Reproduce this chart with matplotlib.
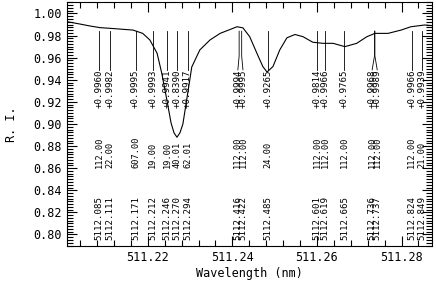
import matplotlib
matplotlib.use("Agg")
import matplotlib.pyplot as plt
from matplotlib.ticker import MultipleLocator

# spectrum profile (nm, relative intensity)
wl = [511.2009, 511.2039, 511.2063, 511.2087, 511.2110, 511.2165, 511.2188,
      511.2205, 511.2222, 511.2233, 511.2245, 511.2255, 511.2262, 511.2269,
      511.2276, 511.2283, 511.2292, 511.2304, 511.2323, 511.2347, 511.2371,
      511.2411, 511.2425, 511.2441, 511.2458, 511.2472, 511.2482, 511.2496,
      511.2512, 511.2529, 511.2548, 511.2567, 511.2590, 511.2614, 511.2638,
      511.2666, 511.2694, 511.2718, 511.2737, 511.2768, 511.2799, 511.2822,
      511.2855, 511.2872]
ri = [0.9926, 0.9905, 0.9887, 0.9872, 0.9866, 0.9850, 0.9820,
      0.9760, 0.9640, 0.9460, 0.9220, 0.9010, 0.8920, 0.8880,
      0.8920, 0.9000, 0.9220, 0.9516, 0.9670, 0.9760, 0.9820,
      0.9880, 0.9870, 0.9790, 0.9640, 0.9520, 0.9470, 0.9520,
      0.9670, 0.9780, 0.9810, 0.9790, 0.9740, 0.9730, 0.9730,
      0.9700, 0.9730, 0.9790, 0.9820, 0.9820, 0.9850, 0.9880,
      0.9896, 0.9890]

# line identifications
line_wl = [5112.085, 5112.111, 5112.171, 5112.212, 5112.246, 5112.270, 5112.294,
           5112.416, 5112.422, 5112.485, 5112.601, 5112.619, 5112.665,
           5112.736, 5112.737, 5112.824, 5112.849]
depth = ["+0.9960", "+0.9982", "+0.9995", "+0.9993", "+0.9941", "+0.8390", "+0.9917",
         "+0.9994", "+0.9995", "+0.9265", "+0.9814", "+0.9966", "+0.9765",
         "+0.9968", "+0.9989", "+0.9966", "+0.9939"]
code = ["112.00", "22.00", "607.00", "19.00", "19.00", "40.01", "62.01",
        "112.00", "112.00", "24.00", "112.00", "112.00", "112.00",
        "112.00", "112.00", "112.00", "21.00"]

mono = "DejaVu Sans Mono"

fig = plt.figure(figsize=(4.36, 2.81), dpi=100)
ax = fig.add_axes([0.1537, 0.1246, 0.8371, 0.8683])

ax.plot(wl, ri, color="black", lw=0.8)

# spread label positions where lines are too close
pos = [w / 10.0 for w in line_wl]
lab = list(pos)
mind = 0.0012
for i in range(1, len(lab)):
    if lab[i] - lab[i - 1] < mind:
        mid = (pos[i] + pos[i - 1]) / 2
        lab[i - 1] = mid - mind / 2
        lab[i] = mid + mind / 2

for p, q, d, c, w in zip(pos, lab, depth, code, line_wl):
    ax.plot([p, p, q], [0.984, 0.9615, 0.949], color="black", lw=0.6)
    ax.text(q, 0.9145, d, rotation=90, ha="center", va="bottom",
            fontsize=6.6, family=mono)
    ax.text(q, 0.860, c, rotation=90, ha="center", va="bottom",
            fontsize=6.2, family=mono)
    ax.text(q, 0.795, "%.3f" % w, rotation=90, ha="center", va="bottom",
            fontsize=6.6, family=mono)

ax.set_xlim(511.2009, 511.2872)
ax.set_ylim(0.7896, 1.0104)
ax.xaxis.set_major_locator(MultipleLocator(0.02))
ax.xaxis.set_minor_locator(MultipleLocator(0.004))
ax.yaxis.set_major_locator(MultipleLocator(0.02))
ax.yaxis.set_minor_locator(MultipleLocator(0.0025))
ax.xaxis.set_major_formatter(matplotlib.ticker.FormatStrFormatter("%.2f"))
ax.yaxis.set_major_formatter(matplotlib.ticker.FormatStrFormatter("%.2f"))
ax.tick_params(which="both", direction="in", top=True, right=True,
               labelsize=8.5, width=0.8)
ax.tick_params(which="major", length=7)
ax.tick_params(which="minor", length=4)
for t in ax.get_xticklabels() + ax.get_yticklabels():
    t.set_family(mono)
for s in ax.spines.values():
    s.set_linewidth(0.8)

ax.set_xlabel("Wavelength (nm)", family=mono, fontsize=8.5, labelpad=2)
ax.set_ylabel("R. I.", family=mono, fontsize=8.5, labelpad=11)

fig.savefig("out.png", dpi=100)
